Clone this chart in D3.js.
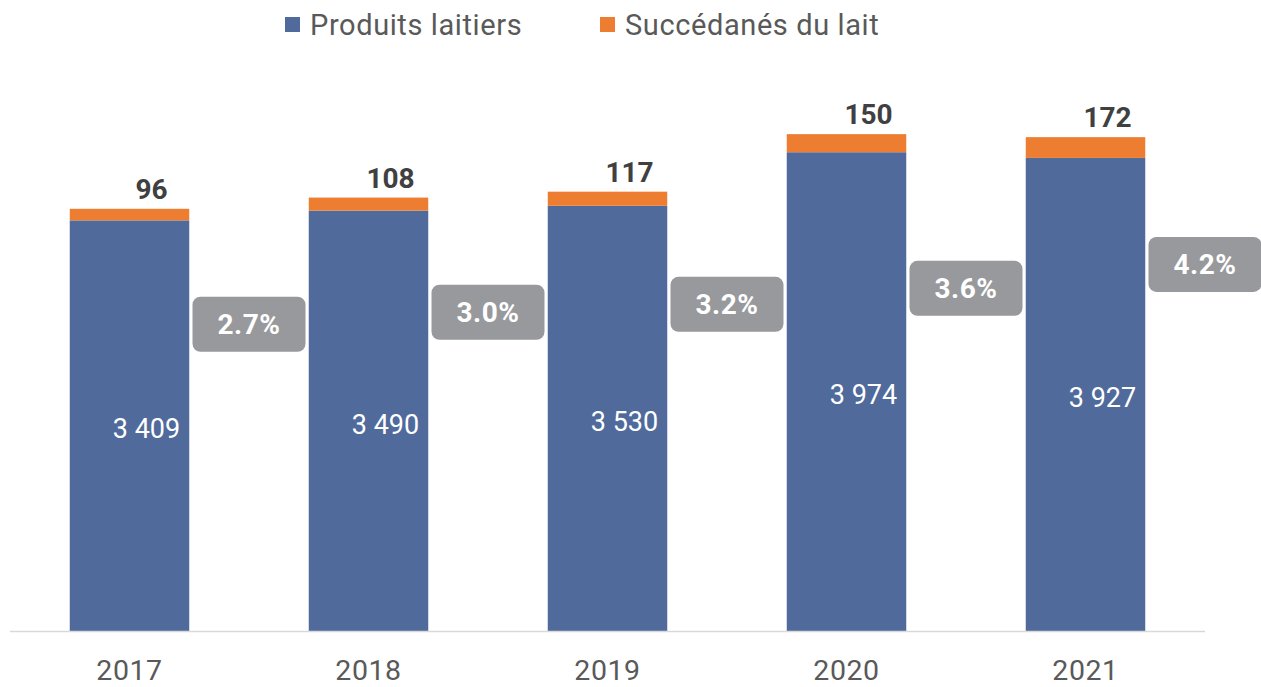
<!DOCTYPE html>
<html>
<head>
<meta charset="utf-8">
<script src="https://cdn.jsdelivr.net/npm/d3@7"></script>
<style>
  html, body { margin: 0; padding: 0; background: #ffffff; }
  svg { display: block; font-family: Roboto, "Noto Sans", sans-serif; }
</style>
</head>
<body>
<svg id="chart" width="1261" height="687"></svg>
<script>
// ---- Data ----
const years = ["2017", "2018", "2019", "2020", "2021"];
const dairy = [3409, 3490, 3530, 3974, 3927];          // Produits laitiers
const substitutes = [96, 108, 117, 150, 172];          // Succédanés du lait
const sharePct = [2.7, 3.0, 3.2, 3.6, 4.2];            // share of substitutes (%)
const seriesNames = ["Produits laitiers", "Succédanés du lait"];

// ---- Styles ----
const colors = { dairy: "#4F6A9B", subs: "#ED7D31", box: "#98999C" };
const svg = d3.select("#chart");

const x = d3.scaleBand().domain(years).range([10, 1205])
  .paddingInner(0.5).paddingOuter(0.25);
const y = d3.scaleLinear().domain([0, 4500]).range([631.5, 88.8]);
const y2 = d3.scaleLinear().domain([-5, 8.6]).range([631.5, 88.8]);

const data = years.map((yr, i) => ({ yr, dairy: dairy[i], subs: substitutes[i], pct: sharePct[i] }));
const fmt = v => d3.format(",")(v).replace(/,/g, " ");

// bars: dairy
svg.append("g").selectAll("rect").data(data).join("rect")
  .attr("x", d => x(d.yr)).attr("width", x.bandwidth())
  .attr("y", d => y(d.dairy)).attr("height", d => y(0) - y(d.dairy))
  .attr("fill", colors.dairy);

// bars: substitutes stacked
svg.append("g").selectAll("rect").data(data).join("rect")
  .attr("x", d => x(d.yr)).attr("width", x.bandwidth())
  .attr("y", d => y(d.dairy + d.subs)).attr("height", d => y(d.dairy) - y(d.dairy + d.subs))
  .attr("fill", colors.subs);

// axis baseline
const xAxis = svg.append("g").attr("transform", `translate(0,${y(0)})`)
  .call(d3.axisBottom(x).tickSize(0).tickPadding(28));
xAxis.select(".domain").attr("stroke", "#D9D9D9").attr("stroke-width", 1.5)
  .attr("d", "M10,0H1205");
xAxis.selectAll("text").attr("font-size", 28.5).attr("fill", "#595959")
  .attr("font-family", "Roboto").attr("letter-spacing", 0.6).attr("dy", "0.71em");

// dairy value labels
svg.append("g").selectAll("text").data(data).join("text")
  .attr("x", d => x(d.yr) + x.bandwidth() / 2 + 17)
  .attr("y", d => (y(d.dairy) + y(0)) / 2 + 3)
  .attr("dy", "0.35em").attr("text-anchor", "middle")
  .attr("font-size", 27).attr("fill", "#ffffff")
  .text(d => fmt(d.dairy));

// substitute value labels
svg.append("g").selectAll("text").data(data).join("text")
  .attr("x", d => x(d.yr) + x.bandwidth() / 2 + 22)
  .attr("y", d => y(d.dairy + d.subs) - 10)
  .attr("text-anchor", "middle")
  .attr("font-size", 28).attr("font-weight", "bold").attr("fill", "#404040")
  .text(d => d.subs);

// share boxes
const boxW = 113, boxH = 55;
const g = svg.append("g").selectAll("g").data(data).join("g")
  .attr("transform", d => `translate(${x(d.yr) + x.bandwidth() / 2 + x.step() / 2},${y2(d.pct)})`);
g.append("rect").attr("x", -boxW / 2).attr("y", -boxH / 2)
  .attr("width", boxW).attr("height", boxH).attr("rx", 8)
  .attr("fill", colors.box);
g.append("text").attr("text-anchor", "middle").attr("dy", "0.36em")
  .attr("font-size", 28).attr("font-weight", "bold").attr("fill", "#ffffff")
  .attr("letter-spacing", 0.5)
  .text(d => d.pct.toFixed(1) + "%");

// legend
const legend = svg.append("g");
const legItems = [
  { name: seriesNames[0], color: colors.dairy, x: 285 },
  { name: seriesNames[1], color: colors.subs, x: 600 }
];
const li = legend.selectAll("g").data(legItems).join("g")
  .attr("transform", d => `translate(${d.x},17)`);
li.append("rect").attr("width", 15).attr("height", 15).attr("fill", d => d.color);
li.append("text").attr("x", 25).attr("y", 17.5)
  .attr("font-size", 29).attr("fill", "#595959").attr("letter-spacing", 0.6)
  .text(d => d.name);
</script>
</body>
</html>
